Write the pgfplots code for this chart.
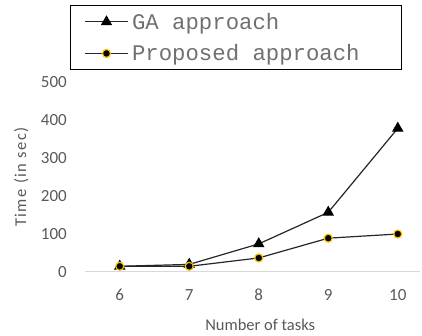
\documentclass[border=0pt]{standalone}
\usepackage{pgfplots}
\pgfplotsset{compat=1.18}
\usepackage{fontspec}
\setmainfont{Carlito}
\newfontfamily\monofont{Liberation Mono}
\newfontfamily\ylfont[LetterSpace=9]{Carlito}
\definecolor{txt}{HTML}{595959}
\definecolor{legtxt}{HTML}{707070}
\definecolor{axl}{HTML}{D9D9D9}
\definecolor{gold}{HTML}{FFC000}
\definecolor{ln}{HTML}{262626}
\begin{document}
\begin{tikzpicture}[x=1pt,y=1pt]
\useasboundingbox (0,0) rectangle (422,336);
\begin{axis}[
  at={(85pt,64pt)}, anchor=south west,
  scale only axis, width=335pt, height=190pt,
  xmin=5.5, xmax=10.32, ymin=0, ymax=500,
  xtick={6,7,8,9,10}, ytick={0,100,200,300,400,500},
  axis x line*=bottom, axis y line*=left,
  x axis line style={draw=axl, line width=1pt, -},
  y axis line style={draw=none},
  major tick length=0pt,
  tick label style={font=\fontsize{17}{20}\selectfont, text=txt},
  /pgf/number format/assume math mode=true,
  yticklabel style={inner xsep=0pt, xshift=-18pt, anchor=east},
  xticklabel style={inner ysep=0pt, yshift=-23pt, anchor=center},
  xlabel={Number of tasks}, ylabel={Time (in sec)},
  every axis y label/.style={at={(axis description cs:-0.19,0.5)}, rotate=90, anchor=center,
     font=\ylfont\fontsize{16.5}{19}\selectfont, text=txt},
  every axis x label/.style={at={(axis description cs:0.523,-0.279)}, anchor=center,
     font=\fontsize{16.5}{19}\selectfont, text=txt},
  clip=false,
  legend style={at={(axis description cs:-0.0448,1.405)}, anchor=north west,
    draw=black, line width=0.8pt, font=\monofont\fontsize{22.3}{24}\selectfont, text=legtxt,
    inner xsep=14pt, inner ysep=6.5pt, row sep=12pt, column sep=0pt,
    nodes={inner xsep=3.5pt, inner ysep=1pt}, cells={anchor=west}},
  legend image code/.code={
    \draw[ln, line width=1.2pt] (0pt,0pt) -- (43pt,0pt);
    \draw[#1, line width=1pt] plot coordinates {(21.5pt,0pt)};
  },
]
\addplot[ln, line width=1.2pt, mark=triangle*, mark size=5.5pt, mark options={fill=black, draw=black}]
  coordinates {(6,15) (7,20) (8,74) (9,157) (10,378)};
\addlegendentry{GA approach}
\addplot[ln, line width=1.2pt, mark=*, mark size=4pt, mark options={fill=black, draw=gold, line width=1.2pt}]
  coordinates {(6,15) (7,15) (8,37) (9,89) (10,100)};
\addlegendentry{Proposed approach\kern24pt}
\end{axis}
\end{tikzpicture}
\end{document}
